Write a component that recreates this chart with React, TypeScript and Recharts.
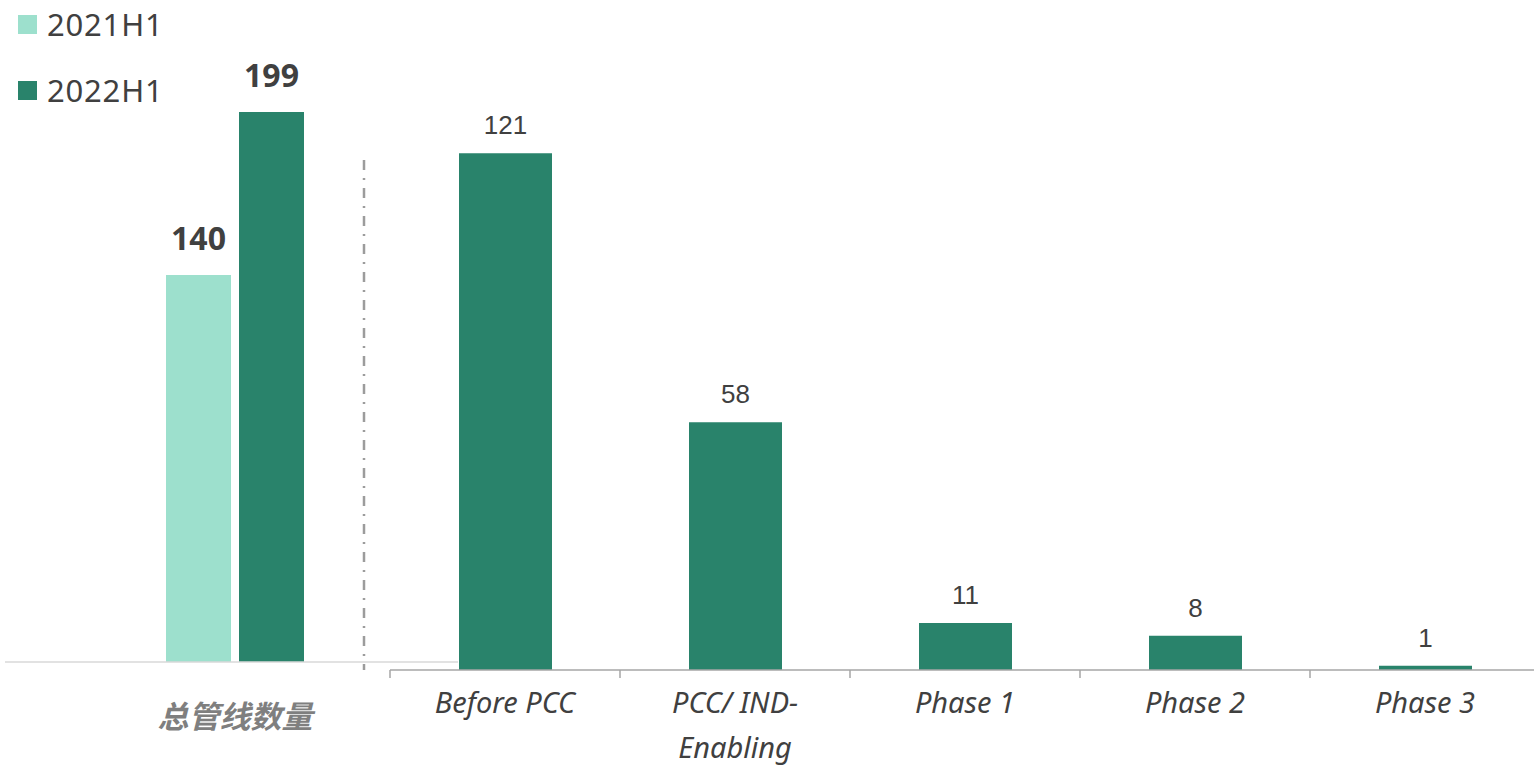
import { Bar, BarChart, LabelList, Legend, XAxis, YAxis } from "recharts";

// total pipeline count, first half of each year
const totalCategories = ["总管线数量"];
const total2021H1 = [140];
const total2022H1 = [199];

// 2022H1 pipeline split by development stage
const stageCategories = ["Before PCC", "PCC/ IND-\nEnabling", "Phase 1", "Phase 2", "Phase 3"];
const stage2022H1 = [121, 58, 11, 8, 1];

const LIGHT = "#9de0cd";
const DARK = "#29836b";
const TEXT = "#404040";
const FONT = '"Noto Sans", "Noto Sans CJK SC", sans-serif';

const totalData = totalCategories.map((name, i) => ({
  name,
  h2021: total2021H1[i],
  h2022: total2022H1[i],
}));

const stageData = stageCategories.map((name, i) => ({
  name,
  value: stage2022H1[i],
}));

function TotalTick({ x, y, payload }: any) {
  return (
    <text
      x={x}
      y={y + 58}
      textAnchor="middle"
      fill="#7f7f7f"
      fontSize={31}
      fontWeight={700}
      fontStyle="italic"
      fontFamily='"Noto Sans CJK SC", sans-serif'
    >
      {payload.value}
    </text>
  );
}

function StageTick({ x, y, payload }: any) {
  const lines = String(payload.value).split("\n");
  const half = payload.offset || 115;
  return (
    <g>
      <line x1={x - half} x2={x - half} y1={y - 8} y2={y} stroke="#a6a6a6" strokeWidth={1.5} />
      <text
        x={x}
        y={y + 35}
        textAnchor="middle"
        fill={TEXT}
        fontSize={29}
        fontStyle="italic"
        fontFamily={FONT}
      >
        {lines.map((line, i) => (
          <tspan key={i} x={x} dy={i === 0 ? 0 : 45}>
            {line}
          </tspan>
        ))}
      </text>
    </g>
  );
}

function LegendBox({ payload }: any) {
  return (
    <div style={{ paddingTop: 15 }}>
      {(payload || []).map((entry: any) => (
        <div
          key={entry.value}
          style={{ display: "flex", alignItems: "center", height: 19, marginBottom: 47 }}
        >
          <span style={{ width: 19, height: 19, background: entry.color, display: "inline-block" }} />
          <span
            style={{
              marginLeft: 10,
              fontSize: 31,
              letterSpacing: 0.8,
              lineHeight: "19px",
              color: TEXT,
              fontFamily: FONT,
              whiteSpace: "nowrap",
            }}
          >
            {entry.value}
          </span>
        </div>
      ))}
    </div>
  );
}

export default function App() {
  return (
    <div
      style={{
        position: "absolute",
        left: 0,
        top: 0,
        width: 1534,
        height: 765,
        overflow: "hidden",
        background: "#fff",
        fontFamily: FONT,
      }}
    >
      <div style={{ position: "absolute", left: 0, top: 0 }}>
        <BarChart
          width={458}
          height={765}
          data={totalData}
          margin={{ top: 54, right: 0, bottom: 0, left: 5 }}
          barGap={8}
        >
          <YAxis hide domain={[0, 220]} />
          <XAxis
            dataKey="name"
            height={103}
            padding={{ left: 100, right: 93 }}
            axisLine={{ stroke: "#d9d9d9", strokeWidth: 1.5 }}
            tickLine={false}
            tickSize={8}
            tickMargin={0}
            tick={<TotalTick />}
          />
          <Legend
            layout="vertical"
            align="center"
            verticalAlign="middle"
            wrapperStyle={{ top: 0, left: 18, width: "auto" }}
            content={<LegendBox />}
          />
          <Bar dataKey="h2021" name="2021H1" fill={LIGHT} barSize={65} isAnimationActive={false}>
            <LabelList
              dataKey="h2021"
              position="top"
              offset={25}
              fill={TEXT}
              fontSize={32}
              fontWeight={700}
              fontFamily={FONT}
            />
          </Bar>
          <Bar dataKey="h2022" name="2022H1" fill={DARK} barSize={65} isAnimationActive={false}>
            <LabelList
              dataKey="h2022"
              position="top"
              offset={25}
              fill={TEXT}
              fontSize={32}
              fontWeight={700}
              fontFamily={FONT}
            />
          </Bar>
        </BarChart>
      </div>

      {/* divider between the total and the stage breakdown */}
      <svg
        width={20}
        height={520}
        style={{ position: "absolute", left: 354, top: 155, pointerEvents: "none" }}
      >
        <line x1={10} x2={10} y1={5} y2={515} stroke="#9c9c9c" strokeWidth={2.5} strokeDasharray="10 8 2 8" />
      </svg>

      <div style={{ position: "absolute", left: 0, top: 0, pointerEvents: "none" }}>
        <BarChart
          width={1540}
          height={765}
          data={stageData}
          margin={{ top: 72, right: 0, bottom: 0, left: 390 }}
        >
          <YAxis hide domain={[0, 140]} />
          <XAxis
            dataKey="name"
            height={95}
            interval={0}
            axisLine={{ stroke: "#a6a6a6", strokeWidth: 1.5 }}
            tickLine={false}
            tickSize={8}
            tickMargin={0}
            tick={<StageTick />}
          />
          <Bar dataKey="value" fill={DARK} barSize={93} isAnimationActive={false}>
            <LabelList
              dataKey="value"
              position="top"
              offset={19}
              fill={TEXT}
              fontSize={26}
              fontFamily='"Liberation Sans", Arial, sans-serif'
            />
          </Bar>
        </BarChart>
      </div>
    </div>
  );
}
